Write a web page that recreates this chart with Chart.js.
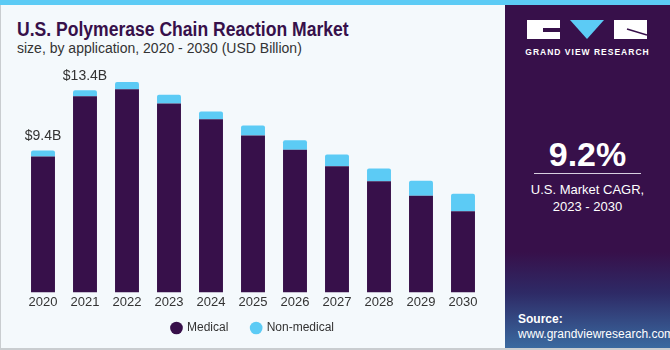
<!DOCTYPE html>
<html>
<head>
<meta charset="utf-8">
<script src="https://cdn.jsdelivr.net/npm/chart.js@4"></script>
<style>
  body { margin: 0; width: 670px; height: 350px; overflow: hidden; background: #f4f9fc; font-family: "Liberation Sans", Arial, sans-serif; position: relative; }
  #topbar { position: absolute; left: 0; top: 0; width: 670px; height: 5px; background: #5ccbf5; }
  #edge { position: absolute; left: 0; top: 5px; width: 1px; height: 345px; background: #c9cdd0; }
  #bottom { position: absolute; left: 0; top: 348px; width: 670px; height: 2px; background: #c9cdd0; z-index: 2; }
  #title { position: absolute; left: 17px; top: 18px; font-size: 19.5px; font-weight: bold; color: #37104a;
    transform: scaleX(0.9); transform-origin: left top; white-space: nowrap; }
  #subtitle { position: absolute; left: 17px; top: 40px; font-size: 14px; color: #333; }
  #chartbox { position: absolute; left: 0; top: 60px; width: 500px; height: 300px; }
  #panel { position: absolute; left: 505px; top: 5px; width: 165px; height: 343px;
    background: linear-gradient(to bottom, #37104a 0%, #37104a 72%, #2e2a66 84%, #3a6aa0 100%); color: #fff; }
  #logo { position: absolute; left: 22px; top: 15px; width: 120px; height: 19px; }
  #brand { position: absolute; left: 0; width: 165px; top: 42px; text-align: center; font-size: 8.5px; font-weight: bold; letter-spacing: 1px; }
  #cagr { position: absolute; left: 0; width: 165px; top: 130px; text-align: center; font-size: 34px; font-weight: bold; }
  #rule { position: absolute; left: 29px; width: 107px; top: 168px; height: 1px; background: #d8cfe0; }
  #cagrtxt { position: absolute; left: 0; width: 165px; top: 176px; text-align: center; font-size: 13px; line-height: 17px; }
  #source { position: absolute; left: 13px; top: 307px; font-size: 12px; line-height: 15px; }
</style>
</head>
<body>
<div id="topbar"></div>
<div id="edge"></div>
<div id="bottom"></div>
<div id="title">U.S. Polymerase Chain Reaction Market</div>
<div id="subtitle">size, by application, 2020 - 2030 (USD Billion)</div>
<div id="chartbox"><canvas id="chart"></canvas></div>
<div id="panel">
  <svg id="logo" viewBox="0 0 120 19">
    <rect x="0" y="0" width="33" height="19" fill="#fff"/>
    <path d="M16 8 H33 V12 H16 Z" fill="#37104a"/>
    <polygon points="43,0 77,0 60,19" fill="#5ccbf5"/>
    <rect x="87" y="0" width="33" height="19" fill="#fff"/>
    <path d="M100 9 L120 15" stroke="#37104a" stroke-width="1.5"/>
  </svg>
  <div id="brand">GRAND VIEW RESEARCH</div>
  <div id="cagr">9.2%</div>
  <div id="rule"></div>
  <div id="cagrtxt">U.S. Market CAGR,<br>2023 - 2030</div>
  <div id="source"><b>Source:</b><br>www.grandviewresearch.com</div>
</div>
<script>
const years = ['2020', '2021', '2022', '2023', '2024', '2025', '2026', '2027', '2028', '2029', '2030'];
const medical = [9.0, 13.0, 13.46, 12.52, 11.48, 10.4, 9.45, 8.36, 7.37, 6.4, 5.38];
const nonMedical = [0.4, 0.4, 0.49, 0.57, 0.51, 0.66, 0.64, 0.78, 0.84, 1.0, 1.16];
const totalLabels = { 0: '$9.4B', 1: '$13.4B' };

const totalsPlugin = {
    id: 'totals',
    afterDatasetsDraw(c) {
        const ctx = c.ctx;
        const meta = c.getDatasetMeta(1);
        ctx.save();
        ctx.font = '14px "Liberation Sans", Arial, sans-serif';
        ctx.fillStyle = '#333';
        ctx.textAlign = 'center';
        ctx.textBaseline = 'bottom';
        Object.keys(totalLabels).forEach(i => {
            const bar = meta.data[i];
            ctx.fillText(totalLabels[i], bar.x, bar.y - 7);
        });
        ctx.restore();
    }
};

new Chart(document.getElementById('chart'), {
    type: 'bar',
    data: {
        labels: years,
        datasets: [
            { label: 'Medical', data: medical, backgroundColor: '#37104a', borderSkipped: false },
            { label: 'Non-medical', data: nonMedical, backgroundColor: '#5ccbf5',
              borderRadius: { topLeft: 2, topRight: 2 }, borderSkipped: false }
        ]
    },
    options: {
        responsive: true,
        maintainAspectRatio: false,
        animation: false,
        layout: { padding: { left: 22, right: 16, top: 0, bottom: 16 } },
        datasets: { bar: { barPercentage: 0.57, categoryPercentage: 1 } },
        plugins: {
            legend: {
                position: 'bottom',
                labels: {
                    usePointStyle: true, pointStyle: 'circle', boxWidth: 9, boxHeight: 9,
                    padding: 10, color: '#333',
                    font: { size: 12, family: '"Liberation Sans", Arial, sans-serif' },
                    generateLabels: (c) => Chart.defaults.plugins.legend.labels.generateLabels(c)
                        .map((l, i) => Object.assign(l, { text: i === 0 ? l.text + '    ' : l.text }))
                }
            },
            tooltip: { enabled: false }
        },
        scales: {
            x: {
                stacked: true,
                grid: { display: false, drawTicks: false },
                border: { display: false },
                ticks: { color: '#333', padding: 2, font: { size: 13, family: '"Liberation Sans", Arial, sans-serif' } }
            },
            y: {
                stacked: true, display: false, min: 0, max: 15.4
            }
        }
    },
    plugins: [totalsPlugin]
});
</script>
</body>
</html>
